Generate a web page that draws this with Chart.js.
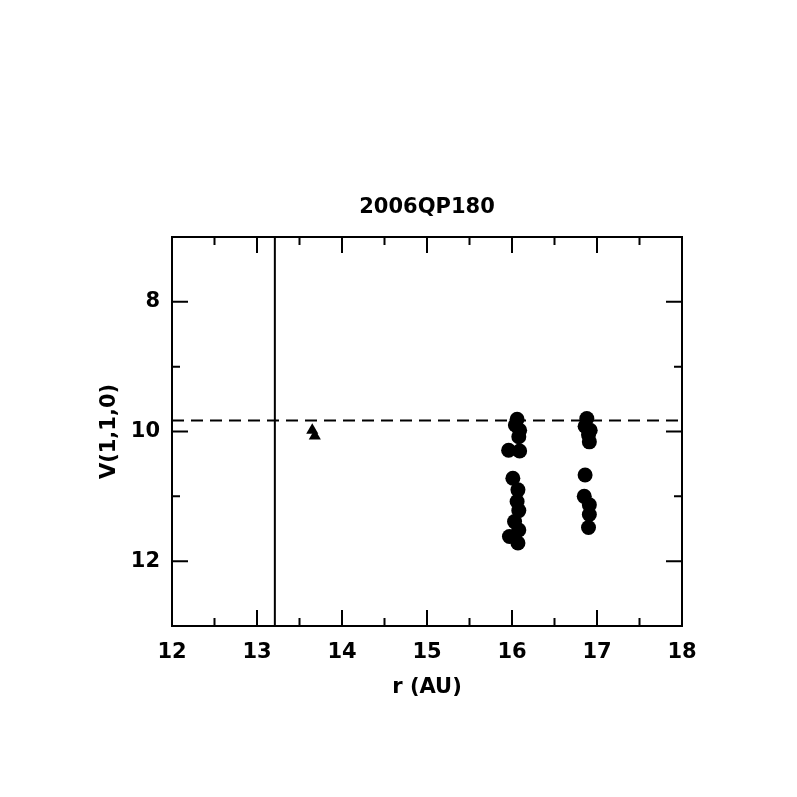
<!DOCTYPE html>
<html>
<head>
<meta charset="utf-8">
<script src="https://cdn.jsdelivr.net/npm/chart.js@4"></script>
<style>
  html, body { margin: 0; padding: 0; background: #fff; }
  #wrap { width: 797px; height: 797px; position: relative; }
</style>
</head>
<body>
<div id="wrap"><canvas id="chart"></canvas></div>
<script>
// data
const titleText = '2006QP180';
const xTicks = [12, 13, 14, 15, 16, 17, 18];
const yTicks = [8, 10, 12];

const rCircles = [16.06, 16.04, 16.09, 16.08, 15.96, 16.09, 16.01, 16.07, 16.06, 16.08, 16.03, 16.08, 15.97, 16.07,
                  16.88, 16.86, 16.92, 16.90, 16.91, 16.86, 16.85, 16.91, 16.91, 16.90];
const vCircles = [9.81, 9.90, 9.98, 10.08, 10.29, 10.30, 10.72, 10.90, 11.08, 11.22, 11.39, 11.52, 11.62, 11.72,
                  9.80, 9.92, 9.98, 10.05, 10.16, 10.67, 11.00, 11.13, 11.28, 11.48];

const rTriangles = [13.65, 13.68];
const vTriangles = [9.98, 10.07];

const rLimit = 13.21;   // vertical solid line
const vLimit = 9.83;    // horizontal dashed line

const FONT = 'DejaVu Sans';

// frame + inward ticks on all four sides
const frameTicks = {
    id: 'frameTicks',
    afterDraw(chart) {
        const { ctx, chartArea: a, scales } = chart;
        const x = scales.x, y = scales.y;
        ctx.save();
        ctx.strokeStyle = '#000';
        ctx.lineWidth = 2;
        ctx.strokeRect(a.left, a.top, a.right - a.left, a.bottom - a.top);
        ctx.beginPath();
        for (let v = 12; v <= 18.001; v += 0.5) {
            const px = x.getPixelForValue(v);
            const len = Number.isInteger(v) ? 16 : 8;
            ctx.moveTo(px, a.bottom); ctx.lineTo(px, a.bottom - len);
            ctx.moveTo(px, a.top); ctx.lineTo(px, a.top + len);
        }
        for (let v = 7; v <= 13; v += 1) {
            const py = y.getPixelForValue(v);
            const len = (v % 2 === 0) ? 16 : 8;
            ctx.moveTo(a.left, py); ctx.lineTo(a.left + len, py);
            ctx.moveTo(a.right, py); ctx.lineTo(a.right - len, py);
        }
        ctx.stroke();

        ctx.fillStyle = '#000';
        ctx.textAlign = 'center';
        ctx.textBaseline = 'middle';
        ctx.font = 'bold 21px ' + FONT;
        ctx.fillText(titleText, (a.left + a.right) / 2, 208);
        ctx.fillText('r (AU)', (a.left + a.right) / 2, 688);
        ctx.translate(110, (a.top + a.bottom) / 2);
        ctx.rotate(-Math.PI / 2);
        ctx.fillText('V(1,1,0)', 0, 0);
        ctx.restore();
    }
};

const ctx = document.getElementById('chart').getContext('2d');
new Chart(ctx, {
    type: 'scatter',
    data: {
        datasets: [
            {
                data: rCircles.map((r, i) => ({ x: r, y: vCircles[i] })),
                pointStyle: 'circle',
                pointRadius: 7.5,
                backgroundColor: '#000',
                borderColor: '#000',
                borderWidth: 0
            },
            {
                data: rTriangles.map((r, i) => ({ x: r, y: vTriangles[i] })),
                pointStyle: 'triangle',
                pointRadius: 7,
                backgroundColor: '#000',
                borderColor: '#000',
                borderWidth: 0
            },
            {
                type: 'line',
                data: [{ x: rLimit, y: 7 }, { x: rLimit, y: 13 }],
                borderColor: '#000',
                borderWidth: 2,
                pointRadius: 0
            },
            {
                type: 'line',
                data: [{ x: 12, y: vLimit }, { x: 18, y: vLimit }],
                borderColor: '#000',
                borderWidth: 2,
                borderDash: [12, 7],
                pointRadius: 0
            }
        ]
    },
    options: {
        responsive: true,
        maintainAspectRatio: false,
        animation: false,
        layout: { padding: { top: 237, right: 115, left: 0, bottom: 0 } },
        plugins: {
            legend: { display: false },
            tooltip: { enabled: false }
        },
        scales: {
            x: {
                type: 'linear',
                min: 12,
                max: 18,
                grid: { display: false, drawTicks: false },
                border: { display: false },
                afterFit: (s) => { s.height = 171; },
                afterBuildTicks: (s) => { s.ticks = xTicks.map(v => ({ value: v })); },
                ticks: {
                    color: '#000',
                    padding: 14,
                    font: { family: FONT, size: 21, weight: 'bold' }
                }
            },
            y: {
                type: 'linear',
                min: 7,
                max: 13,
                reverse: true,
                grid: { display: false, drawTicks: false },
                border: { display: false },
                afterFit: (s) => { s.width = 172; },
                afterBuildTicks: (s) => { s.ticks = yTicks.map(v => ({ value: v })); },
                ticks: {
                    color: '#000',
                    padding: 12,
                    font: { family: FONT, size: 21, weight: 'bold' }
                }
            }
        }
    },
    plugins: [frameTicks]
});
</script>
</body>
</html>
